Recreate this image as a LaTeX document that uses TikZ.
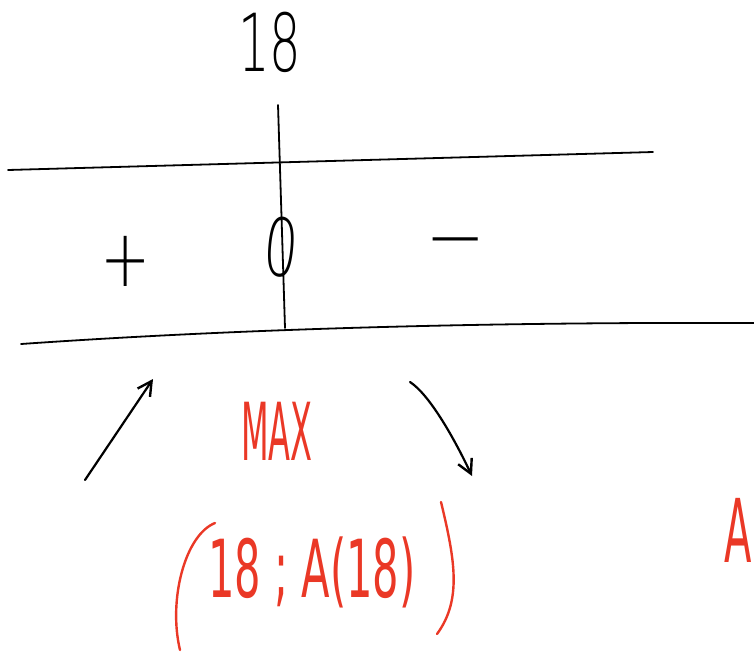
\documentclass[tikz,border=0pt]{standalone}
\usepackage{fontspec}
\newfontfamily\hand{DejaVu Sans ExtraLight}
\newfontfamily\handbold{DejaVu Sans}
\usetikzlibrary{arrows.meta}
\definecolor{penred}{RGB}{234,56,38}
\tikzset{
  ink/.style={line width=1.8pt, line cap=round, black},
  redink/.style={line width=2.4pt, line cap=round, penred},
  txt/.style={inner sep=0pt, font=\hand\fontsize{80}{80}\selectfont},
  redtxt/.style={inner sep=0pt, text=penred, font=\handbold\fontsize{80}{80}\selectfont},
  arr/.style={ink, line width=2.2pt, -{Straight Barb[length=14pt,width=15pt,line width=2.4pt]}}
}
\begin{document}
\begin{tikzpicture}[x=1pt,y=-1pt]
\useasboundingbox (0,0) rectangle (754,656);
% sign table
\draw[ink] (8,170) -- (653,152);
\draw[ink] (21,344) .. controls (250,328) and (500,322) .. (754,323);
\draw[ink] (278,105) -- (285,328);
\node[txt, xscale=0.62] (top) at (270,42) {18};
\node[txt, xscale=0.75] (plus) at (126,261) {+};
\node[txt, xscale=0.68, rotate=-8] (zero) at (281,247) {0};
\node[txt, xscale=0.9] (minus) at (456,251) {−};
% arrows
\coordinate (a1s) at (85,480);
\coordinate (a1e) at (153,379);
\draw[arr] (a1s) -- (a1e);
\coordinate (a2s) at (410,382);
\coordinate (a2e) at (472,476);
\draw[arr] (a2s) .. controls (430,395) and (455,440) .. (a2e);
% red text
\node[redtxt, xscale=0.4] (max) at (277,431) {MAX};
\node[redtxt, xscale=0.52] (pt) at (312,572) {18 ; A(18)};
\coordinate (lp1) at (215,523);
\coordinate (lp2) at (180,650);
\draw[redink] (lp1) .. controls (185,535) and (168,600) .. (lp2);
\coordinate (rp1) at (441,502);
\coordinate (rp2) at (437,634);
\draw[redink] (rp1) .. controls (455,560) and (462,600) .. (rp2);
\node[redtxt, xscale=0.5, yscale=1.1] (acut) at (738,530) {A};
\end{tikzpicture}
\end{document}
